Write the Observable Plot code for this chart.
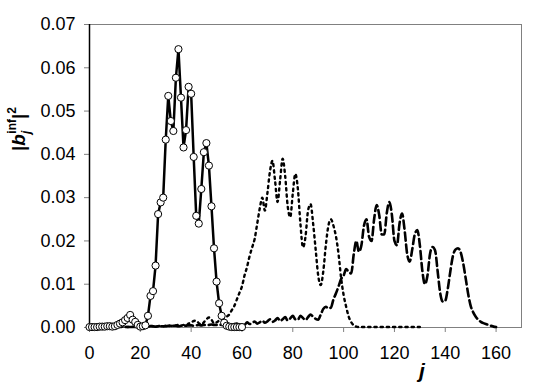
<!DOCTYPE html>
<html>
<head>
<meta charset="utf-8">
<script src="https://cdn.jsdelivr.net/npm/d3@7"></script>
<script src="https://cdn.jsdelivr.net/npm/@observablehq/plot@0.6"></script>
<style>
  html, body { margin: 0; padding: 0; background: white; }
</style>
</head>
<body>
<div id="chart"></div>
<script>
// Series with open circles (solid line), j = 0..60
const solidStart = 0;
const solidValues = [
  0.0001,0.0001,0.0001,0.0001,0.0002,0.0002,0.0002,0.0003,0.0003,0.0002,
  0.0003,0.0006,0.0009,0.0012,0.0017,0.0022,0.0029,0.0018,0.0013,0.0006,
  0.0002,0.0003,0.0005,0.0027,0.0073,0.0084,0.0143,0.0262,0.0289,0.0300,
  0.0434,0.0535,0.0477,0.0454,0.0577,0.0643,0.0531,0.0416,0.0456,0.0556,
  0.0540,0.0394,0.0258,0.0240,0.0320,0.0405,0.0426,0.0374,0.0280,0.0183,
  0.0106,0.0056,0.0027,0.0011,0.0004,0.0002,0.0001,0.0001,0.0001,0.0001,
  0.0001
];
// Dotted series, j = 0..130
const dottedStart = 0;
const dottedValues = [
  0.0001,0.0001,0.0001,0.0001,0.0001,0.0001,0.0001,0.0001,0.0001,0.0001,
  0.0001,0.0001,0.0002,0.0002,0.0002,0.0001,0.0002,0.0002,0.0001,0.0002,
  0.0002,0.0003,0.0002,0.0003,0.0004,0.0003,0.0002,0.0003,0.0004,0.0003,
  0.0004,0.0005,0.0004,0.0003,0.0005,0.0006,0.0004,0.0006,0.0005,0.0009,
  0.0012,0.0015,0.0016,0.0010,0.0007,0.0012,0.0019,0.0023,0.0018,0.0010,
  0.0012,0.0016,0.0020,0.0022,0.0025,0.0030,0.0040,0.0050,0.0065,0.0080,
  0.0095,0.0120,0.0140,0.0165,0.0185,0.0205,0.0240,0.0275,0.0300,0.0270,
  0.0310,0.0360,0.0385,0.0340,0.0290,0.0340,0.0390,0.0350,0.0280,0.0255,
  0.0310,0.0355,0.0320,0.0240,0.0185,0.0210,0.0270,0.0285,0.0240,0.0180,
  0.0120,0.0098,0.0130,0.0190,0.0235,0.0250,0.0235,0.0210,0.0170,0.0115,
  0.0075,0.0048,0.0025,0.0012,0.0005,0.0002,0.0001,0.0001,0.0001,0.0001,
  0.0001,0.0001,0.0001,0.0001,0.0001,0.0001,0.0001,0.0001,0.0001,0.0001,
  0.0001,0.0001,0.0001,0.0001,0.0001,0.0001,0.0001,0.0001,0.0001,0.0001,
  0.0001
];
// Dashed series, j = 0..160
const dashedStart = 0;
const dashedValues = [
  0.0001,0.0001,0.0001,0.0001,0.0001,0.0001,0.0001,0.0001,0.0001,0.0001,
  0.0001,0.0001,0.0001,0.0001,0.0001,0.0001,0.0001,0.0001,0.0001,0.0001,
  0.0002,0.0002,0.0003,0.0002,0.0003,0.0003,0.0002,0.0003,0.0003,0.0003,
  0.0003,0.0004,0.0003,0.0004,0.0004,0.0003,0.0004,0.0005,0.0004,0.0005,
  0.0005,0.0004,0.0005,0.0006,0.0005,0.0006,0.0005,0.0006,0.0007,0.0006,
  0.0006,0.0007,0.0006,0.0007,0.0008,0.0007,0.0006,0.0008,0.0009,0.0007,
  0.0008,0.0006,0.0012,0.0008,0.0010,0.0014,0.0009,0.0012,0.0016,0.0011,
  0.0014,0.0019,0.0013,0.0016,0.0022,0.0015,0.0019,0.0024,0.0016,0.0021,
  0.0027,0.0019,0.0018,0.0027,0.0022,0.0017,0.0024,0.0030,0.0025,0.0020,
  0.0018,0.0030,0.0043,0.0048,0.0044,0.0046,0.0065,0.0079,0.0095,0.0112,
  0.0120,0.0135,0.0128,0.0125,0.0170,0.0200,0.0175,0.0190,0.0235,0.0250,
  0.0210,0.0200,0.0250,0.0283,0.0260,0.0215,0.0215,0.0265,0.0290,0.0260,
  0.0200,0.0190,0.0240,0.0263,0.0225,0.0170,0.0152,0.0180,0.0215,0.0225,
  0.0190,0.0130,0.0100,0.0120,0.0170,0.0186,0.0178,0.0130,0.0080,0.0060,
  0.0062,0.0090,0.0130,0.0165,0.0180,0.0183,0.0175,0.0150,0.0115,0.0078,
  0.0050,0.0035,0.0025,0.0018,0.0013,0.0010,0.0008,0.0006,0.0004,0.0002,
  0.0001
];
const xTicks = [0, 20, 40, 60, 80, 100, 120, 140, 160];
const yTicks = [0, 0.01, 0.02, 0.03, 0.04, 0.05, 0.06, 0.07];

const toRows = (start, vals) => vals.map((v, i) => ({j: start + i, v}));
const solid = toRows(solidStart, solidValues);
const dotted = toRows(dottedStart, dottedValues);
const dashed = toRows(dashedStart, dashedValues);

const FONT = "'Liberation Sans', Arial, Helvetica, sans-serif";

const svg = Plot.plot({
  width: 545,
  height: 383,
  marginLeft: 89,
  marginRight: 24,
  marginTop: 24,
  marginBottom: 56,
  style: {fontFamily: FONT, fontSize: "18px", background: "white", color: "black"},
  x: {domain: [0, 170]},
  y: {domain: [0, 0.07]},
  marks: [
    Plot.frame({stroke: "#808080", strokeWidth: 1}),
    Plot.axisX({ticks: xTicks, tickSize: 5, tickPadding: 14, stroke: "#808080", fill: "black", fontSize: 18, label: null, tickFormat: d => String(d)}),
    Plot.axisY({ticks: yTicks, tickSize: 5, tickPadding: 9, stroke: "#808080", fill: "black", fontSize: 18, label: null, tickFormat: d3.format(".2f")}),
    Plot.ruleX([0], {stroke: "black", strokeWidth: 1.5}),
    Plot.line(dotted, {x: "j", y: "v", stroke: "black", strokeWidth: 2.4, strokeDasharray: "2.2,4", curve: "monotone-x"}),
    Plot.line(dashed, {x: "j", y: "v", stroke: "black", strokeWidth: 2.6, strokeDasharray: "8,4", curve: "monotone-x"}),
    Plot.line(solid, {x: "j", y: "v", stroke: "black", strokeWidth: 2.5}),
    Plot.dot(solid, {x: "j", y: "v", r: 3.6, fill: "white", stroke: "black", strokeWidth: 1})
  ]
});

const s = d3.select(svg);
// y-axis title |b_j^inf|^2
const yl = s.append("text")
  .attr("transform", "translate(25,129) rotate(-90)")
  .attr("font-family", FONT)
  .attr("font-weight", "bold")
  .attr("font-size", 19)
  .attr("fill", "black");
yl.append("tspan").text("|");
yl.append("tspan").attr("font-style", "italic").text("b");
yl.append("tspan").attr("font-style", "italic").attr("font-size", 12).attr("dy", 5).text("j");
yl.append("tspan").attr("font-size", 12).attr("dx", -3).attr("dy", -14).text("inf");
yl.append("tspan").attr("dy", 9).text("|");
yl.append("tspan").attr("font-size", 12).attr("dy", -9).text("2");

// x-axis title j
s.append("text")
  .attr("x", 422)
  .attr("y", 378)
  .attr("text-anchor", "middle")
  .attr("font-family", FONT)
  .attr("font-weight", "bold")
  .attr("font-style", "italic")
  .attr("font-size", 21)
  .attr("fill", "black")
  .text("j");

document.getElementById("chart").appendChild(svg);
</script>
</body>
</html>
